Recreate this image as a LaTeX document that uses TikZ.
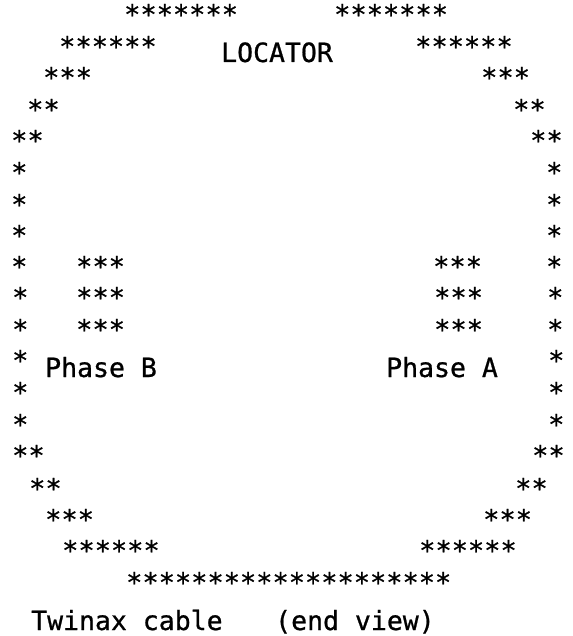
\documentclass[tikz,border=0pt]{standalone}
\usepackage{fontspec}
\setmonofont[FakeBold=0.8]{DejaVu Sans Mono}
\tikzset{
	art/.style={anchor=base west, inner sep=0pt, font=\fontsize{27}{27}\selectfont\ttfamily},
	lbl/.style={anchor=base west, inner sep=0pt, font=\fontsize{26.5}{27}\selectfont\ttfamily},
}

\begin{document}
\begin{tikzpicture}[x=1pt,y=-1pt]
	\useasboundingbox (0,0) rectangle (572,636);
	% outline of stars, left side
	\foreach \nm/\xx/\yy/\txt in {la/124/24/*******, lb/59/56/******, lc/43/87/***, ld/27/119/**, le/11/150/**, lf/11/182/*, lg/11/214/*, lh/11/245/*, li/11/276/*, lj/12/307/*, lk/12/339/*, ll/12/370/*, lm/12/402/*, ln/12/434/*, lo/12/465/**, lp/29/498/**, lq/45/529/***, lr/62/560/******}
		\node[art] (\nm) at (\xx,\yy) {\txt};
	% right side
	\foreach \nm/\xx/\yy/\txt in {ra/334/24/*******, rb/415/56/******, rc/481/87/***, rd/513/119/**, re/530/150/**, rf/546/182/*, rg/546/214/*, rh/546/245/*, ri/546/276/*, rj/547/307/*, rk/547/339/*, rl/548/370/*, rm/548/402/*, rn/548/434/*, ro/532/465/**, rp/515/498/**, rq/483/529/***, rr/419/560/******}
		\node[art] (\nm) at (\xx,\yy) {\txt};
	% bottom edge
	\node[art] (bottom) at (126,592) {********************};
	% the two phases
	\foreach \nm/\xx/\yy in {ba/76/276, bb/76/307, bc/76/339, aa/433/276, ab/434/307, ac/434/339}
		\node[art] (\nm) at (\xx,\yy) {***};
	\node[lbl] (phaseb) at (45,377) {Phase B};
	\node[lbl] (phasea) at (386,377) {Phase A};
	\node[lbl] (locator) at (221,62) {LOCATOR};
	\node[lbl] (caption) at (31,630) {Twinax cable};
	\node[lbl] (endview) at (275,630) {(end view)};
\end{tikzpicture}
\end{document}
